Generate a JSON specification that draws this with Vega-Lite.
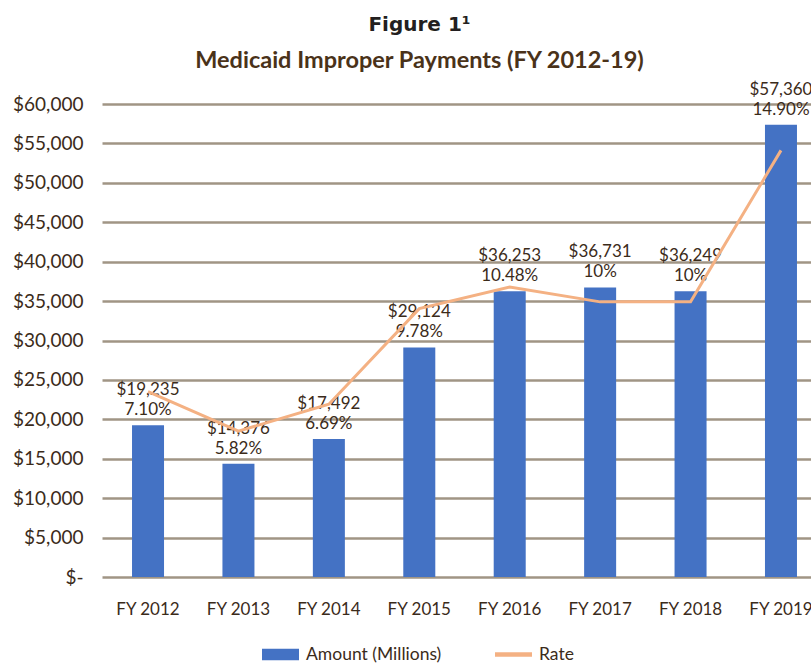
{
  "$schema": "https://vega.github.io/schema/vega-lite/v6.json",
  "autosize": "none",
  "width": 709,
  "height": 473,
  "padding": {"left": 102, "top": 104, "right": 0, "bottom": 87},
  "background": "white",
  "title": {
    "text": "Figure 1¹",
    "subtitle": "Medicaid Improper Payments (FY 2012-19)",
    "anchor": "middle",
    "frame": "group",
    "dx": -37,
    "offset": 8,
    "font": "DejaVu Sans",
    "fontSize": 20,
    "fontWeight": "bold",
    "color": "#231f20",
    "subtitleFont": "Lato",
    "subtitleFontSize": 23.5,
    "subtitleFontWeight": "bold",
    "subtitleColor": "#4a3219",
    "subtitlePadding": 14
  },
  "config": {
    "view": {"stroke": null},
    "font": "Lato"
  },
  "data": {
    "values": [
      {"year": "FY 2012", "amount": 19235, "rate": 7.10, "rate_label": "7.10%"},
      {"year": "FY 2013", "amount": 14376, "rate": 5.82, "rate_label": "5.82%"},
      {"year": "FY 2014", "amount": 17492, "rate": 6.69, "rate_label": "6.69%"},
      {"year": "FY 2015", "amount": 29124, "rate": 9.78, "rate_label": "9.78%"},
      {"year": "FY 2016", "amount": 36253, "rate": 10.48, "rate_label": "10.48%"},
      {"year": "FY 2017", "amount": 36731, "rate": 10, "rate_label": "10%"},
      {"year": "FY 2018", "amount": 36249, "rate": 10, "rate_label": "10%"},
      {"year": "FY 2019", "amount": 57360, "rate": 14.90, "rate_label": "14.90%"}
    ]
  },
  "encoding": {
    "x": {
      "field": "year",
      "type": "ordinal",
      "scale": {"range": [0, 725], "paddingInner": 0.646, "paddingOuter": 0.332},
      "axis": {
        "title": null,
        "domain": false,
        "ticks": false,
        "tickSize": 0,
        "labelAngle": 0,
        "labelFont": "Lato",
        "labelFontSize": 17,
        "labelColor": "#3b2b1a",
        "labelPadding": 24
      }
    }
  },
  "layer": [
    {
      "encoding": {
        "y": {
          "field": "amount",
          "type": "quantitative",
          "scale": {"domain": [0, 60000], "nice": false},
          "axis": {
            "title": null,
            "domain": false,
            "ticks": false,
            "tickSize": 0,
            "values": [0, 5000, 10000, 15000, 20000, 25000, 30000, 35000, 40000, 45000, 50000, 55000, 60000],
            "labelExpr": "datum.value === 0 ? '$-' : '$' + format(datum.value, ',')",
            "labelFont": "Lato",
            "labelFontSize": 19,
            "labelColor": "#3b2b1a",
            "labelPadding": 19,
            "encode": {
              "labels": {
                "dx": {"condition": {"test": "datum.value === 0", "value": -26}, "value": 0}
              }
            },
            "grid": true,
            "gridColor": "#a09585",
            "gridWidth": 2.5
          }
        }
      },
      "layer": [
        {
          "mark": {"type": "bar", "color": "#4472C4"},
          "encoding": {
            "color": {
              "datum": "Amount (Millions)",
              "type": "nominal",
              "scale": {"domain": ["Amount (Millions)", "Rate"], "range": ["#4472C4", "#F4B183"]},
              "legend": {
                "orient": "none",
                "legendX": 160,
                "legendY": 532,
                "direction": "horizontal",
                "title": null,
                "symbolSize": 1369,
                "columnPadding": 53,
                "labelOffset": 7,
                "labelFont": "Lato",
                "labelFontSize": 17.5,
                "labelColor": "#3b2b1a",
                "encode": {
                  "symbols": {
                    "update": {
                      "shape": {"signal": "datum.value === 'Rate' ? 'M-1,-0.12H1V0.12H-1Z' : 'M-1,-0.31H1V0.31H-1Z'"},
                      "size": {"value": 1369},
                      "fill": {"scale": "color", "field": "value"},
                      "stroke": {"value": "transparent"},
                      "strokeWidth": {"value": 0},
                      "opacity": {"value": 1},
                      "fillOpacity": {"value": 1}
                    }
                  }
                }
              }
            }
          }
        },
        {
          "mark": {"type": "text", "baseline": "alphabetic", "align": "center", "dy": -30, "font": "Lato", "fontSize": 17, "color": "#3b2b1a"},
          "encoding": {
            "text": {"field": "amount", "type": "quantitative", "format": "$,.0f"}
          }
        },
        {
          "mark": {"type": "text", "baseline": "alphabetic", "align": "center", "dy": -10, "font": "Lato", "fontSize": 17, "color": "#3b2b1a"},
          "encoding": {
            "text": {"field": "rate_label", "type": "nominal"}
          }
        }
      ]
    },
    {
      "mark": {"type": "line", "strokeWidth": 3, "color": "#F4B183"},
      "encoding": {
        "y": {
          "field": "rate",
          "type": "quantitative",
          "scale": {"domain": [1.1, 16.4], "nice": false, "zero": false},
          "axis": null
        },
        "color": {"datum": "Rate", "type": "nominal"}
      }
    }
  ],
  "resolve": {"scale": {"y": "independent"}}
}
